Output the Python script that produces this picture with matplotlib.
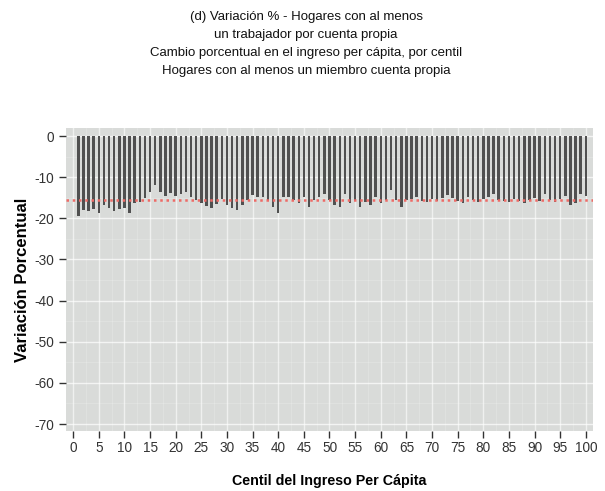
import numpy as np
import matplotlib
matplotlib.use('Agg')
import matplotlib.pyplot as plt

plt.rcParams['font.family'] = ['Liberation Sans', 'DejaVu Sans']
plt.rcParams['axes.unicode_minus'] = False

# Data
centiles = list(range(1, 101))
variacion = [
  -19.5, -18.0, -18.3, -17.8, -18.8, -16.8, -17.6, -18.2, -17.8, -17.6,
  -18.6, -16.3, -16.0, -15.0, -13.5, -12.0, -13.5, -14.5, -13.8, -14.5,
  -14.0, -13.6, -14.8, -15.5, -16.2, -17.0, -17.6, -16.5, -15.3, -16.8,
  -17.6, -18.0, -16.8, -15.6, -14.4, -14.8, -14.8, -15.6, -17.2, -18.8,
  -14.8, -14.8, -15.6, -16.4, -14.8, -17.2, -15.6, -14.8, -14.0, -15.6,
  -16.8, -17.2, -14.0, -16.4, -15.6, -17.2, -16.0, -16.8, -14.8, -16.4,
  -15.6, -13.2, -15.6, -17.2, -15.6, -15.4, -14.8, -15.8, -16.0, -15.2,
  -15.8, -15.0, -14.4, -15.0, -15.8, -16.2, -14.8, -15.6, -16.0, -15.4,
  -14.8, -14.2, -15.6, -15.8, -16.0, -15.4, -15.8, -16.2, -15.6, -15.0,
  -15.8, -14.2, -15.6, -16.0, -15.4, -14.6, -16.8, -16.2, -14.0, -14.5,
]
linea_ref = -15.6
xticks = list(range(0, 101, 5))
yticks = [0, -10, -20, -30, -40, -50, -60, -70]
title_lines = [
  '(d) Variación % - Hogares con al menos',
  'un trabajador por cuenta propia',
  'Cambio porcentual en el ingreso per cápita, por centil',
  'Hogares con al menos un miembro cuenta propia',
]

fig = plt.figure(figsize=(6.05, 4.91), dpi=100)
ax = fig.add_axes([66/605, 1 - 431/491, 527/605, 303/491])
ax.set_facecolor('#d9dbd9')

# grid
for x in xticks:
  ax.axvline(x, color='white', lw=1.0, alpha=0.6, zorder=0)
for x in np.arange(2.5, 100, 5):
  ax.axvline(x, color='white', lw=0.4, alpha=0.3, zorder=0)
for y in yticks:
  ax.axhline(y, color='white', lw=1.0, alpha=0.7, zorder=0)
for y in np.arange(-65, 0, 10):
  ax.axhline(y, color='white', lw=0.4, alpha=0.3, zorder=0)

ax.bar(centiles, variacion, width=0.48, color='#505050', zorder=2)
ax.axhline(linea_ref, color='#ee6a66', lw=1.8, ls=(0, (1, 1.5)), zorder=3)

ax.set_xlim(-1.4, 101.4)
ax.set_ylim(-71.7, 1.95)
ax.set_xticks(xticks)
ax.set_yticks(yticks)
ax.tick_params(axis='both', colors='#333333', labelsize=9.8, length=5, width=1)
ax.tick_params(axis='x', pad=2)
for s in ax.spines.values():
  s.set_visible(False)

ax.set_xlabel('Centil del Ingreso Per Cápita', fontsize=10.3, fontweight='bold', labelpad=14)
ax.set_ylabel('Variación Porcentual', fontsize=12, fontweight='bold', labelpad=3)

title_y = [17, 35, 53, 71]
for line, ty in zip(title_lines, title_y):
  fig.text(0.506, 1 - ty/491, line, ha='center', va='center',
           fontsize=9.5, color='#111111')

plt.savefig('out.png', dpi=100)
